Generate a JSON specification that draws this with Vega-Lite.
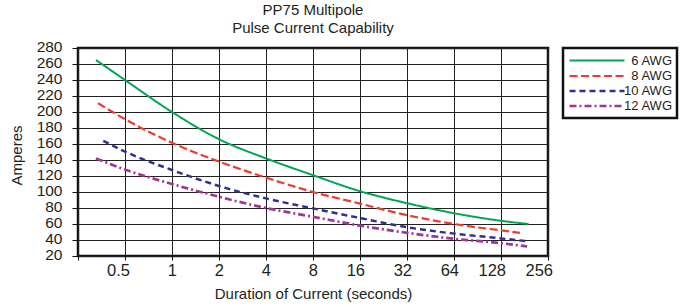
{
  "$schema": "https://vega.github.io/schema/vega-lite/v6.json",
  "width": 470,
  "height": 208,
  "autosize": {"type": "none"},
  "padding": {"left": 78, "top": 48, "right": 138, "bottom": 51},
  "background": "white",
  "title": {
    "text": ["PP75 Multipole", "Pulse Current Capability"],
    "anchor": "middle",
    "fontSize": 15,
    "font": "Liberation Sans",
    "fontWeight": "normal",
    "color": "#231f20",
    "lineHeight": 18,
    "offset": 3
  },
  "config": {
    "view": {"stroke": "#111111", "strokeWidth": 2.5},
    "axis": {
      "domain": false,
      "grid": true,
      "gridColor": "#222222",
      "gridWidth": 1,
      "gridOpacity": 1,
      "tickColor": "#111111",
      "tickWidth": 1,
      "labelOverlap": false,
      "labelFont": "Liberation Sans",
      "labelFontSize": 16.5,
      "labelColor": "#231f20",
      "titleFont": "Liberation Sans",
      "titleFontSize": 15,
      "titleFontWeight": "normal",
      "titleColor": "#231f20"
    },
    "legend": {
      "orient": "none",
      "legendX": 485,
      "legendY": 0,
      "strokeColor": "#111111",
      "strokeWidth": 2.5,
      "padding": 5,
      "symbolType": "M-4.23,0H4.23",
      "symbolSize": 169,
      "symbolOffset": 21,
      "labelOffset": 67,
      "labelFont": "Liberation Sans Narrow, Liberation Sans",
      "labelFontSize": 13,
      "labelColor": "#231f20",
      "labelAlign": "right",
      "rowPadding": 0,
      "fillColor": "white"
    }
  },
  "data": {
    "values": [
      {"wire": "6 AWG", "seconds": 0.326, "amperes": 265},
      {"wire": "6 AWG", "seconds": 0.5, "amperes": 240},
      {"wire": "6 AWG", "seconds": 1, "amperes": 200},
      {"wire": "6 AWG", "seconds": 2, "amperes": 166},
      {"wire": "6 AWG", "seconds": 4, "amperes": 142},
      {"wire": "6 AWG", "seconds": 8, "amperes": 121},
      {"wire": "6 AWG", "seconds": 16, "amperes": 101},
      {"wire": "6 AWG", "seconds": 32, "amperes": 86},
      {"wire": "6 AWG", "seconds": 64, "amperes": 73.5},
      {"wire": "6 AWG", "seconds": 128, "amperes": 64},
      {"wire": "6 AWG", "seconds": 192, "amperes": 60},
      {"wire": "8 AWG", "seconds": 0.336, "amperes": 211},
      {"wire": "8 AWG", "seconds": 0.5, "amperes": 191},
      {"wire": "8 AWG", "seconds": 1, "amperes": 161.5},
      {"wire": "8 AWG", "seconds": 2, "amperes": 138},
      {"wire": "8 AWG", "seconds": 4, "amperes": 118},
      {"wire": "8 AWG", "seconds": 8, "amperes": 100},
      {"wire": "8 AWG", "seconds": 16, "amperes": 85.5},
      {"wire": "8 AWG", "seconds": 32, "amperes": 71},
      {"wire": "8 AWG", "seconds": 64, "amperes": 60},
      {"wire": "8 AWG", "seconds": 128, "amperes": 52},
      {"wire": "8 AWG", "seconds": 169, "amperes": 49},
      {"wire": "10 AWG", "seconds": 0.363, "amperes": 164},
      {"wire": "10 AWG", "seconds": 0.5, "amperes": 150.5},
      {"wire": "10 AWG", "seconds": 1, "amperes": 127.5},
      {"wire": "10 AWG", "seconds": 2, "amperes": 107.5},
      {"wire": "10 AWG", "seconds": 4, "amperes": 92},
      {"wire": "10 AWG", "seconds": 8, "amperes": 79.5},
      {"wire": "10 AWG", "seconds": 16, "amperes": 67.5},
      {"wire": "10 AWG", "seconds": 32, "amperes": 56},
      {"wire": "10 AWG", "seconds": 64, "amperes": 48},
      {"wire": "10 AWG", "seconds": 128, "amperes": 42},
      {"wire": "10 AWG", "seconds": 188, "amperes": 38.5},
      {"wire": "12 AWG", "seconds": 0.326, "amperes": 142},
      {"wire": "12 AWG", "seconds": 0.5, "amperes": 128},
      {"wire": "12 AWG", "seconds": 1, "amperes": 110},
      {"wire": "12 AWG", "seconds": 2, "amperes": 94},
      {"wire": "12 AWG", "seconds": 4, "amperes": 80},
      {"wire": "12 AWG", "seconds": 8, "amperes": 69},
      {"wire": "12 AWG", "seconds": 16, "amperes": 58},
      {"wire": "12 AWG", "seconds": 32, "amperes": 49},
      {"wire": "12 AWG", "seconds": 64, "amperes": 41.5},
      {"wire": "12 AWG", "seconds": 128, "amperes": 36},
      {"wire": "12 AWG", "seconds": 188, "amperes": 32}
    ]
  },
  "mark": {"type": "line", "interpolate": "monotone"},
  "encoding": {
    "x": {
      "field": "seconds",
      "type": "quantitative",
      "scale": {"type": "log", "base": 2, "domain": [0.25, 256], "nice": false},
      "axis": {
        "values": [0.25, 0.5, 1, 2, 4, 8, 16, 32, 64, 128, 256],
        "format": "~g",
        "labelExpr": "datum.value < 0.3 ? '' : datum.label",
        "labelAlign": "right",
        "labelOffset": 4.5,
        "labelPadding": 2,
        "tickSize": 4,
        "title": "Duration of Current (seconds)",
        "titleY": 42,
        "titleBaseline": "alphabetic"
      }
    },
    "y": {
      "field": "amperes",
      "type": "quantitative",
      "scale": {"domain": [20, 280], "nice": false, "zero": false},
      "axis": {
        "values": [20, 40, 60, 80, 100, 120, 140, 160, 180, 200, 220, 240, 260, 280],
        "labelFontSize": 15.5,
        "tickSize": 6,
        "labelPadding": 10,
        "labelOffset": -2,
        "title": "Amperes",
        "titleX": -57,
        "titleY": 107,
        "titleAngle": -90,
        "titleAlign": "center",
        "titleBaseline": "alphabetic"
      }
    },
    "color": {
      "field": "wire",
      "type": "nominal",
      "scale": {"domain": ["6 AWG", "8 AWG", "10 AWG", "12 AWG"], "range": ["#00a651", "#ef3b2c", "#2e3192", "#a3378f"]},
      "legend": {"title": null}
    },
    "strokeDash": {
      "field": "wire",
      "type": "nominal",
      "scale": {"domain": ["6 AWG", "8 AWG", "10 AWG", "12 AWG"], "range": [[1, 0], [8, 3.5], [6, 4], [7, 3, 2, 3]]},
      "legend": {"title": null}
    },
    "strokeWidth": {
      "field": "wire",
      "type": "nominal",
      "scale": {"domain": ["6 AWG", "8 AWG", "10 AWG", "12 AWG"], "range": [2, 2.7, 3, 3]},
      "legend": {"title": null}
    }
  }
}
